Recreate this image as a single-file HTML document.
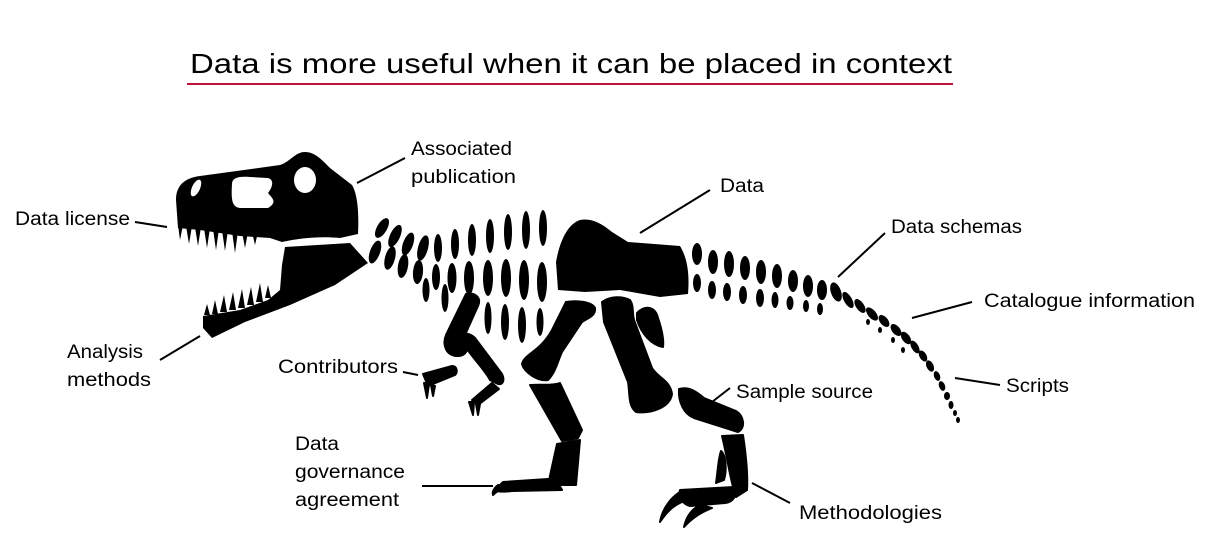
<!DOCTYPE html>
<html><head><meta charset="utf-8"><style>
html,body{margin:0;padding:0;background:#fff;}
svg{display:block;}
text{font-family:"Liberation Sans",sans-serif;fill:#000;}
</style></head><body>
<svg width="1207" height="543" viewBox="0 0 1207 543" xmlns="http://www.w3.org/2000/svg">
<rect width="1207" height="543" fill="#fff"/>
<text x="190" y="73" font-size="28" textLength="762" lengthAdjust="spacingAndGlyphs">Data is more useful when it can be placed in context</text>
<line x1="187" y1="84" x2="953" y2="84" stroke="#c0143c" stroke-width="2"/>

<g fill="#000">
<path d="M176,200 C176,185 185,178 200,176 L280,165 C290,162 295,152 305,152 C315,152 322,160 330,168 L352,185 C358,195 359,215 358,234 L340,238 C320,236 300,238 282,242 L270,238 L240,236 L200,230 L178,228 Z"/>
<ellipse fill="#fff" cx="196" cy="188" rx="4" ry="9" transform="rotate(25 196 188)"/>
<path fill="#fff" d="M232,184 C232,178 238,176 250,177 L268,178 C275,180 272,188 268,193 C272,198 278,202 268,208 L240,208 C232,207 231,200 232,184Z"/>
<ellipse fill="#fff" cx="305" cy="180" rx="11" ry="13"/>
<g>
<path d="M178,225 L183,225 L180,240Z M186,226 L192,226 L189,244Z M195,227 L201,227 L198,246Z M204,228 L210,228 L207,248Z M213,229 L219,229 L216,250Z M222,230 L228,230 L225,251Z M232,231 L238,231 L235,253Z M242,232 L248,232 L245,248Z M252,232 L258,232 L255,245Z"/>
</g>
<path d="M285,247 L350,243 L368,263 L335,285 L290,305 L245,322 L212,338 L203,328 L203,316 L240,310 L268,300 L280,290 L282,265 Z"/>
<g>
<path d="M204,315 L210,315 L207,304Z M212,314 L218,314 L215,300Z M220,312 L227,312 L224,295Z M229,310 L236,310 L233,292Z M238,308 L245,308 L242,289Z M247,305 L254,305 L251,287Z M256,302 L263,302 L260,283Z M265,298 L271,298 L268,285Z"/>
</g>
<g>
<ellipse cx="382" cy="228" rx="5" ry="11" transform="rotate(30 382 228)"/>
<ellipse cx="375" cy="252" rx="5" ry="12" transform="rotate(20 375 252)"/>
<ellipse cx="395" cy="236" rx="5" ry="12" transform="rotate(25 395 236)"/>
<ellipse cx="390" cy="258" rx="5" ry="12" transform="rotate(15 390 258)"/>
<ellipse cx="408" cy="244" rx="5" ry="12" transform="rotate(20 408 244)"/>
<ellipse cx="403" cy="266" rx="5" ry="12" transform="rotate(10 403 266)"/>
<ellipse cx="423" cy="248" rx="5" ry="13" transform="rotate(15 423 248)"/>
<ellipse cx="418" cy="272" rx="5" ry="12" transform="rotate(5 418 272)"/>
</g>
<g>
<ellipse cx="438" cy="248" rx="4" ry="14"/><ellipse cx="436" cy="277" rx="4" ry="13"/><ellipse cx="426" cy="290" rx="3.5" ry="12"/>
<ellipse cx="455" cy="244" rx="4" ry="15"/><ellipse cx="452" cy="278" rx="4.5" ry="15"/><ellipse cx="445" cy="298" rx="3.5" ry="14"/>
<ellipse cx="472" cy="240" rx="4" ry="16"/><ellipse cx="469" cy="278" rx="5" ry="17"/>
<ellipse cx="490" cy="236" rx="4" ry="17"/><ellipse cx="488" cy="278" rx="5" ry="18"/><ellipse cx="488" cy="318" rx="3.5" ry="16"/>
<ellipse cx="508" cy="232" rx="4" ry="18"/><ellipse cx="506" cy="278" rx="5" ry="19"/><ellipse cx="505" cy="322" rx="4" ry="18"/>
<ellipse cx="526" cy="230" rx="4" ry="19"/><ellipse cx="524" cy="280" rx="5" ry="20"/><ellipse cx="522" cy="325" rx="4" ry="18"/>
<ellipse cx="543" cy="228" rx="4" ry="18"/><ellipse cx="542" cy="282" rx="5" ry="20"/><ellipse cx="540" cy="322" rx="3.5" ry="14"/>
</g>
<path d="M556,262 C560,240 568,224 580,220 C590,218 600,222 612,232 L628,242 L680,246 C686,256 690,270 688,294 L660,297 L620,290 L585,292 L558,290 Z"/>
<g>
<ellipse cx="697" cy="254" rx="5" ry="11"/><ellipse cx="697" cy="283" rx="4" ry="9"/>
<ellipse cx="713" cy="262" rx="5" ry="12"/><ellipse cx="712" cy="290" rx="4" ry="9"/>
<ellipse cx="729" cy="264" rx="5" ry="13"/><ellipse cx="727" cy="292" rx="4" ry="9"/>
<ellipse cx="745" cy="268" rx="5" ry="12"/><ellipse cx="743" cy="295" rx="4" ry="9"/>
<ellipse cx="761" cy="272" rx="5" ry="12"/><ellipse cx="760" cy="298" rx="4" ry="9"/>
<ellipse cx="777" cy="276" rx="5" ry="12"/><ellipse cx="775" cy="300" rx="3.5" ry="8"/>
<ellipse cx="793" cy="281" rx="5" ry="11"/><ellipse cx="790" cy="303" rx="3.5" ry="7"/>
<ellipse cx="808" cy="286" rx="5" ry="11"/><ellipse cx="806" cy="306" rx="3" ry="6"/>
<ellipse cx="822" cy="290" rx="5" ry="10"/><ellipse cx="820" cy="309" rx="3" ry="6"/>
<ellipse cx="836" cy="292" rx="5" ry="10" transform="rotate(-20 836 292)"/>
<ellipse cx="848" cy="300" rx="4" ry="9" transform="rotate(-30 848 300)"/>
<ellipse cx="860" cy="306" rx="4" ry="8" transform="rotate(-35 860 306)"/>
<ellipse cx="872" cy="314" rx="4" ry="8" transform="rotate(-40 872 314)"/>
<ellipse cx="884" cy="321" rx="4" ry="7" transform="rotate(-40 884 321)"/>
<ellipse cx="896" cy="330" rx="4" ry="7" transform="rotate(-40 896 330)"/>
<ellipse cx="906" cy="338" rx="4" ry="7" transform="rotate(-35 906 338)"/>
<ellipse cx="915" cy="347" rx="3.5" ry="7" transform="rotate(-30 915 347)"/>
<ellipse cx="923" cy="356" rx="3.5" ry="6" transform="rotate(-30 923 356)"/>
<ellipse cx="930" cy="366" rx="3.5" ry="6" transform="rotate(-25 930 366)"/>
<ellipse cx="937" cy="376" rx="3" ry="5" transform="rotate(-20 937 376)"/>
<ellipse cx="942" cy="386" rx="3" ry="5" transform="rotate(-20 942 386)"/>
<ellipse cx="947" cy="396" rx="3" ry="4"/>
<ellipse cx="951" cy="405" rx="2.5" ry="4"/>
<ellipse cx="955" cy="413" rx="2" ry="3"/>
<ellipse cx="958" cy="420" rx="2" ry="3"/>
<ellipse cx="868" cy="322" rx="2" ry="3"/><ellipse cx="880" cy="330" rx="2" ry="3"/><ellipse cx="893" cy="340" rx="2" ry="3"/><ellipse cx="903" cy="350" rx="2" ry="3"/>
</g>
<g stroke="#000" stroke-width="2" stroke-linejoin="round">
<path d="M466,294 C474,292 482,297 478,306 L465,335 C470,345 468,356 458,356 C446,356 442,345 446,335 Z"/>
<path d="M462,336 C465,332 471,334 475,338 L502,374 C505,380 503,385 498,384 L490,380 C485,370 470,355 462,342 Z"/>
<path d="M423,374 L452,366 C457,366 458,372 455,375 L428,386 Z"/>
<path d="M424,383 L429,384 L427,398Z M431,385 L435,386 L433,396Z"/>
<path d="M492,383 L499,389 L478,405 L472,400Z"/>
<path d="M469,402 L474,402 L473,415Z M476,404 L480,404 L478,415Z"/>
</g>
<g stroke="#000" stroke-width="2" stroke-linejoin="round">
<path d="M566,302 C578,300 592,302 595,308 C596,316 588,318 582,322 L562,352 C558,360 556,372 548,380 C538,382 524,372 522,364 C524,354 540,352 552,330 Z"/>
<path d="M530,385 C540,384 552,386 560,383 L582,430 L578,438 C572,440 566,440 562,441 Z"/>
<path d="M557,444 L580,440 L576,485 L548,485 Z"/>
<path d="M503,482 L548,479 C556,480 560,486 562,490 L512,491 C506,492 498,492 495,490 Z"/>
<path d="M498,485 C494,488 492,492 493,495 C496,492 500,489 506,487Z"/>
<path d="M602,302 C610,296 622,296 630,300 C634,306 632,312 634,320 L652,368 C658,378 670,380 672,394 C670,408 650,414 636,412 C628,406 630,394 628,382 L604,322 Z"/>
<path d="M637,313 C645,305 655,306 658,318 C662,330 664,340 663,347 C652,345 642,335 637,320 Z"/>
<path d="M679,389 C690,386 698,393 704,398 L736,411 C744,416 746,428 738,432 L694,418 C684,414 678,402 679,389Z"/>
<path d="M722,436 L743,435 C746,455 748,475 747,490 L736,497 C730,480 728,460 722,436 Z"/>
<path d="M721,451 C726,455 727,470 724,480 L716,483 C718,470 718,460 721,451Z"/>
<path d="M680,490 L734,487 C738,494 734,502 725,503 L690,506 C682,504 678,496 680,490 Z"/>
<path d="M680,492 C670,498 662,510 660,522 C668,510 676,503 688,500Z"/>
<path d="M700,505 C690,510 686,518 684,527 C692,518 700,513 712,508Z"/>
</g>
</g>

<g stroke="#000" stroke-width="2">
<line x1="135" y1="222" x2="167" y2="227"/>
<line x1="357" y1="183" x2="405" y2="158"/>
<line x1="160" y1="360" x2="200" y2="336"/>
<line x1="640" y1="233" x2="710" y2="190"/>
<line x1="838" y1="277" x2="885" y2="233"/>
<line x1="912" y1="318" x2="972" y2="302"/>
<line x1="955" y1="378" x2="1000" y2="385"/>
<line x1="403" y1="372" x2="418" y2="375"/>
<line x1="712" y1="402" x2="730" y2="388"/>
<line x1="422" y1="486" x2="493" y2="486"/>
<line x1="752" y1="483" x2="790" y2="503"/>
</g>

<g font-size="19">
<text x="15" y="225" textLength="115" lengthAdjust="spacingAndGlyphs">Data license</text>
<text x="411" y="155" textLength="101" lengthAdjust="spacingAndGlyphs">Associated</text>
<text x="411" y="183" textLength="105" lengthAdjust="spacingAndGlyphs">publication</text>
<text x="67" y="358" textLength="76" lengthAdjust="spacingAndGlyphs">Analysis</text>
<text x="67" y="386" textLength="84" lengthAdjust="spacingAndGlyphs">methods</text>
<text x="278" y="373" textLength="120" lengthAdjust="spacingAndGlyphs">Contributors</text>
<text x="720" y="192" textLength="44" lengthAdjust="spacingAndGlyphs">Data</text>
<text x="891" y="233" textLength="131" lengthAdjust="spacingAndGlyphs">Data schemas</text>
<text x="984" y="307" textLength="211" lengthAdjust="spacingAndGlyphs">Catalogue information</text>
<text x="1006" y="392" textLength="63" lengthAdjust="spacingAndGlyphs">Scripts</text>
<text x="736" y="398" textLength="137" lengthAdjust="spacingAndGlyphs">Sample source</text>
<text x="295" y="450" textLength="44" lengthAdjust="spacingAndGlyphs">Data</text>
<text x="295" y="478" textLength="110" lengthAdjust="spacingAndGlyphs">governance</text>
<text x="295" y="506" textLength="104" lengthAdjust="spacingAndGlyphs">agreement</text>
<text x="799" y="519" textLength="143" lengthAdjust="spacingAndGlyphs">Methodologies</text>
</g>
</svg>
</body></html>
